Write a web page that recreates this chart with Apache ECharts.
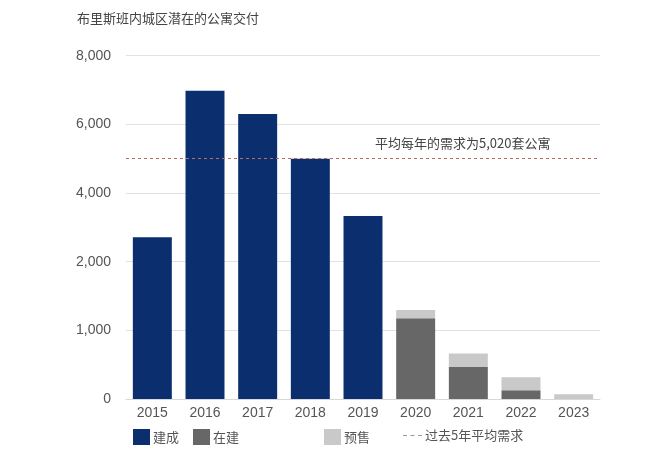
<!DOCTYPE html>
<html><head><meta charset="utf-8">
<script src="https://cdn.jsdelivr.net/npm/echarts@6/dist/echarts.min.js"></script>
<style>html,body{margin:0;padding:0;background:#fff}#c{width:660px;height:465px}</style>
</head><body><div id="c"></div>
<script>
const categories = ['2015','2016','2017','2018','2019','2020','2021','2022','2023'];
const completed   = [2710, 6980, 6300, 5000, 3330, null, null, null, null];
const underConstr = [null, null, null, null, null, 1175, 466, 127, null];
const presale     = [null, null, null, null, null, 120, 195, 190, 70];
const avgDemand = 5020;
const tickValues = [0, 1000, 2000, 4000, 6000, 8000];
const tickLabels = ['0', '1,000', '2,000', '4,000', '6,000', '8,000'];

// piecewise scale: each tick interval gets equal height on the axis
function toAxis(v) {
  if (v == null) return null;
  for (let i = 1; i < tickValues.length; i++) {
    if (v <= tickValues[i]) {
      return (i - 1) + (v - tickValues[i - 1]) / (tickValues[i] - tickValues[i - 1]);
    }
  }
  return tickValues.length - 1;
}
const stackBase = categories.map((_, i) => (completed[i] || 0) + (underConstr[i] || 0));
const sCompleted = completed.map(toAxis);
const sUnder = underConstr.map((v, i) => v == null ? null : toAxis((completed[i] || 0) + v) - toAxis(completed[i] || 0));
const sPresale = presale.map((v, i) => v == null ? null : toAxis(stackBase[i] + v) - toAxis(stackBase[i]));

const font = '"Noto Sans CJK SC", "Noto Sans", sans-serif';
const numFont = '"Liberation Sans", Arial, sans-serif';
const chart = echarts.init(document.getElementById('c'));
const legendBase = {top: 429, padding: 0, itemWidth: 17, itemHeight: 16, itemGap: 14, icon: 'rect',
  textStyle: {color: '#555', fontSize: 13, fontFamily: font, padding: [0, 0, 0, -2]}, selectedMode: false};
chart.setOption({
  animation: false,
  title: {text: '布里斯班内城区潜在的公寓交付', left: 77, top: 12, padding: 0,
    textStyle: {color: '#444', fontSize: 13, fontWeight: 'normal', fontFamily: font}},
  grid: {left: 126, right: 60, top: 55.7, bottom: 66},
  xAxis: {type: 'category', data: categories,
    axisLine: {lineStyle: {color: '#d8d8d8'}}, axisTick: {show: false},
    axisLabel: {color: '#555', fontSize: 14, margin: 7, fontFamily: numFont}},
  yAxis: {type: 'value', min: 0, max: tickLabels.length - 1, interval: 1,
    axisLine: {show: false}, axisTick: {show: false},
    splitLine: {lineStyle: {color: '#e2e2e2'}},
    axisLabel: {color: '#555', fontSize: 14, margin: 15, fontFamily: numFont,
      formatter: v => tickLabels[Math.round(v)]}},
  legend: [
    Object.assign({}, legendBase, {left: 133, data: ['建成', '在建']}),
    Object.assign({}, legendBase, {left: 324, data: ['预售']}),
    Object.assign({}, legendBase, {left: 403, itemWidth: 19, itemHeight: 2,
      data: [{name: '过去5年平均需求', icon: 'path://M0,0h4v1h-4zM7.5,0h4v1h-4zM15,0h4v1h-4z',
        itemStyle: {color: '#999'}}]})
  ],
  series: [
    {name: '建成', type: 'bar', stack: 't', data: sCompleted, barCategoryGap: '26%',
      itemStyle: {color: '#0b2f6e'}},
    {name: '在建', type: 'bar', stack: 't', data: sUnder, itemStyle: {color: '#676767'}},
    {name: '预售', type: 'bar', stack: 't', data: sPresale, itemStyle: {color: '#c9c9c9'}},
    {name: '过去5年平均需求', type: 'line', data: [], itemStyle: {color: '#999'},
      markLine: {symbol: 'none', silent: true,
        lineStyle: {color: '#b86d62', type: [3, 3], width: 1},
        label: {show: false},
        data: [{yAxis: toAxis(avgDemand)}]}}
  ],
  graphic: [{type: 'text', left: 375, top: 137,
    style: {text: '平均每年的需求为5,020套公寓', fill: '#444', fontSize: 13, fontFamily: font}}]
});
</script></body></html>
